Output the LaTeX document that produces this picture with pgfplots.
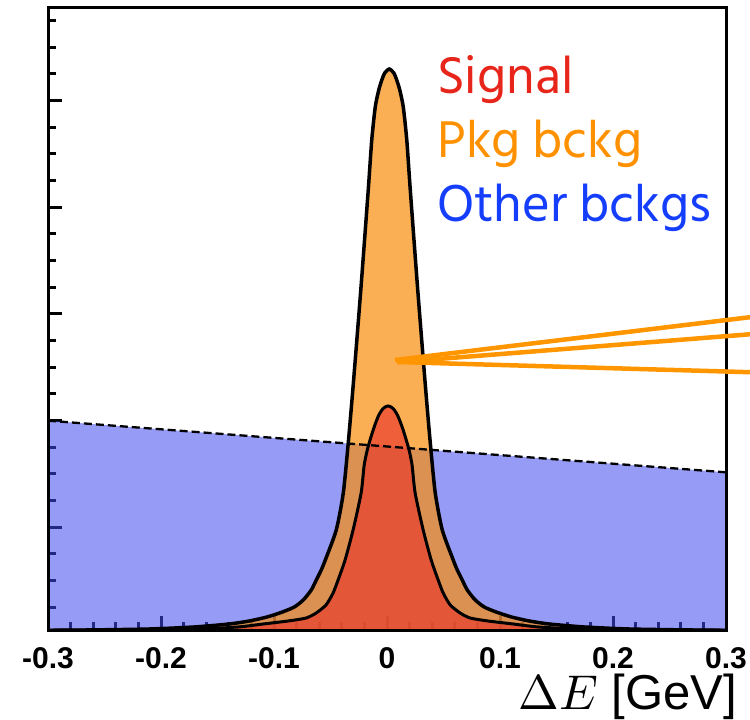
\documentclass[border=0pt]{standalone}
\usepackage{pgfplots}
\pgfplotsset{compat=1.18}
\usepackage{pgfplotstable}
\usepackage{fontspec}
\setmainfont{Liberation Sans}
\newfontfamily\keyfont{Hind Siliguri}

\definecolor{sigred}{RGB}{233,65,48}
\definecolor{pkgorange}{RGB}{249,141,12}
\definecolor{bkgblue}{RGB}{64,73,237}
\definecolor{txtred}{RGB}{232,37,26}
\definecolor{txtorange}{RGB}{255,145,0}
\definecolor{txtblue}{RGB}{20,62,252}
\definecolor{lineorange}{RGB}{255,150,0}

% signal + peaking background (outer curve)
\pgfplotstableread{
x y
-0.3000 0.002
-0.2635 0.005
-0.2104 0.014
-0.1706 0.033
-0.1396 0.061
-0.1219 0.089
-0.1060 0.127
-0.0927 0.173
-0.0821 0.220
-0.0741 0.286
-0.0670 0.380
-0.0626 0.473
-0.0582 0.567
-0.0546 0.661
-0.0449 0.943
-0.0387 1.289
-0.0343 1.758
-0.0299 2.302
-0.0232 3.192
-0.0166 4.130
-0.0135 4.598
-0.0104 4.908
-0.0073 5.067
-0.0046 5.161
-0.0020 5.227
0.0020 5.264
0.0060 5.227
0.0086 5.161
0.0113 5.067
0.0144 4.908
0.0175 4.598
0.0206 4.130
0.0272 3.192
0.0339 2.302
0.0383 1.758
0.0427 1.289
0.0489 0.943
0.0586 0.661
0.0622 0.567
0.0666 0.473
0.0710 0.380
0.0781 0.286
0.0861 0.220
0.0967 0.173
0.1100 0.127
0.1259 0.089
0.1436 0.061
0.1746 0.033
0.2144 0.014
0.2675 0.005
0.3000 0.002
}\outercurve

% signal alone (inner curve)
\pgfplotstableread{
x y
-0.3000 0.002
-0.2291 0.005
-0.1672 0.014
-0.1318 0.033
-0.1096 0.061
-0.0875 0.089
-0.0716 0.117
-0.0627 0.164
-0.0539 0.240
-0.0477 0.352
-0.0433 0.473
-0.0371 0.661
-0.0300 0.943
-0.0229 1.289
-0.0202 1.550
-0.0175 1.690
-0.0149 1.790
-0.0122 1.880
-0.0096 1.960
-0.0070 2.025
-0.0043 2.070
-0.0017 2.095
0.0010 2.105
0.0037 2.095
0.0063 2.070
0.0090 2.025
0.0116 1.960
0.0143 1.880
0.0169 1.790
0.0196 1.690
0.0222 1.550
0.0249 1.289
0.0320 0.943
0.0391 0.661
0.0453 0.473
0.0497 0.352
0.0559 0.240
0.0647 0.164
0.0736 0.117
0.0895 0.089
0.1116 0.061
0.1338 0.033
0.1692 0.014
0.2311 0.005
0.3000 0.002
}\innercurve

\begin{document}
\begin{tikzpicture}[x=1bp,y=1bp]
\useasboundingbox (0,0) rectangle (750,720);
\begin{axis}[
  at={(48bp,89.5bp)}, anchor=south west, scale only axis,
  width=678bp, height=622.5bp,
  xmin=-0.3, xmax=0.3, ymin=0, ymax=5.836,
  axis line style={line width=3bp},
  tick pos=left, tick align=inside,
  xtick={-0.3,-0.2,-0.1,0,0.1,0.2,0.3},
  xticklabels={-0.3,-0.2,-0.1,0,0.1,0.2,0.3},
  minor x tick num=4,
  ytick={0.9675,1.9675,2.9675,3.9675,4.9675},
  yticklabels={},
  minor ytick={0.2175,0.4675,0.7175,1.2175,1.4675,1.7175,2.2175,2.4675,2.7175,3.2175,3.4675,3.7175,4.2175,4.4675,4.7175,5.2175,5.4675,5.7175},
  major tick length=14bp, minor tick length=8bp,
  every tick/.append style={line width=3bp, black},
  xticklabel style={font=\fontsize{30bp}{30bp}\selectfont\bfseries, inner sep=0pt},
  xticklabel shift=17bp,
]
% other backgrounds: linear shape under the dashed line
\addplot[draw=none, fill=bkgblue, fill opacity=0.55] coordinates {(-0.3,1.967) (0.3,1.483)} \closedcycle;
\addplot[draw=none, fill=pkgorange, fill opacity=0.7, smooth, tension=0.4] table {\outercurve} \closedcycle;
\addplot[draw=none, fill=sigred, fill opacity=0.72, smooth, tension=0.4] table {\innercurve} \closedcycle;
\addplot[black, line width=2.3bp, dash pattern=on 8bp off 4bp] coordinates {(-0.3,1.967) (0.3,1.483)};
\addplot[black, line width=3.5bp, smooth, tension=0.4] table {\outercurve};
\addplot[black, line width=3bp, smooth, tension=0.4] table {\innercurve};
\end{axis}
% frame drawn over the filled areas
\draw[line width=3bp] (48,89.5) rectangle (726,712);
% pointer lines
\draw[lineorange, line width=4.5bp] (395,360) -- (760,404);
\draw[lineorange, line width=4.5bp] (400,358) -- (760,386.5);
\draw[lineorange, line width=4.5bp] (397,358) -- (760,347.5);
% key
\node[anchor=base west, inner sep=0, text=txtred, font=\keyfont\fontsize{53bp}{53bp}\selectfont] at (437,626.7) {Signal};
\node[anchor=base west, inner sep=0, text=txtorange, font=\keyfont\fontsize{53bp}{53bp}\selectfont] at (437,562) {Pkg bckg};
\node[anchor=base west, inner sep=0, text=txtblue, font=\keyfont\fontsize{53bp}{53bp}\selectfont] at (437,498.3) {Other bckgs};
% axis title
\node[anchor=base east, inner sep=0] at (737,10.3) {\scalebox{4.9}{$\Delta E$}\fontsize{49bp}{49bp}\selectfont\ [GeV]};
\end{tikzpicture}
\end{document}
